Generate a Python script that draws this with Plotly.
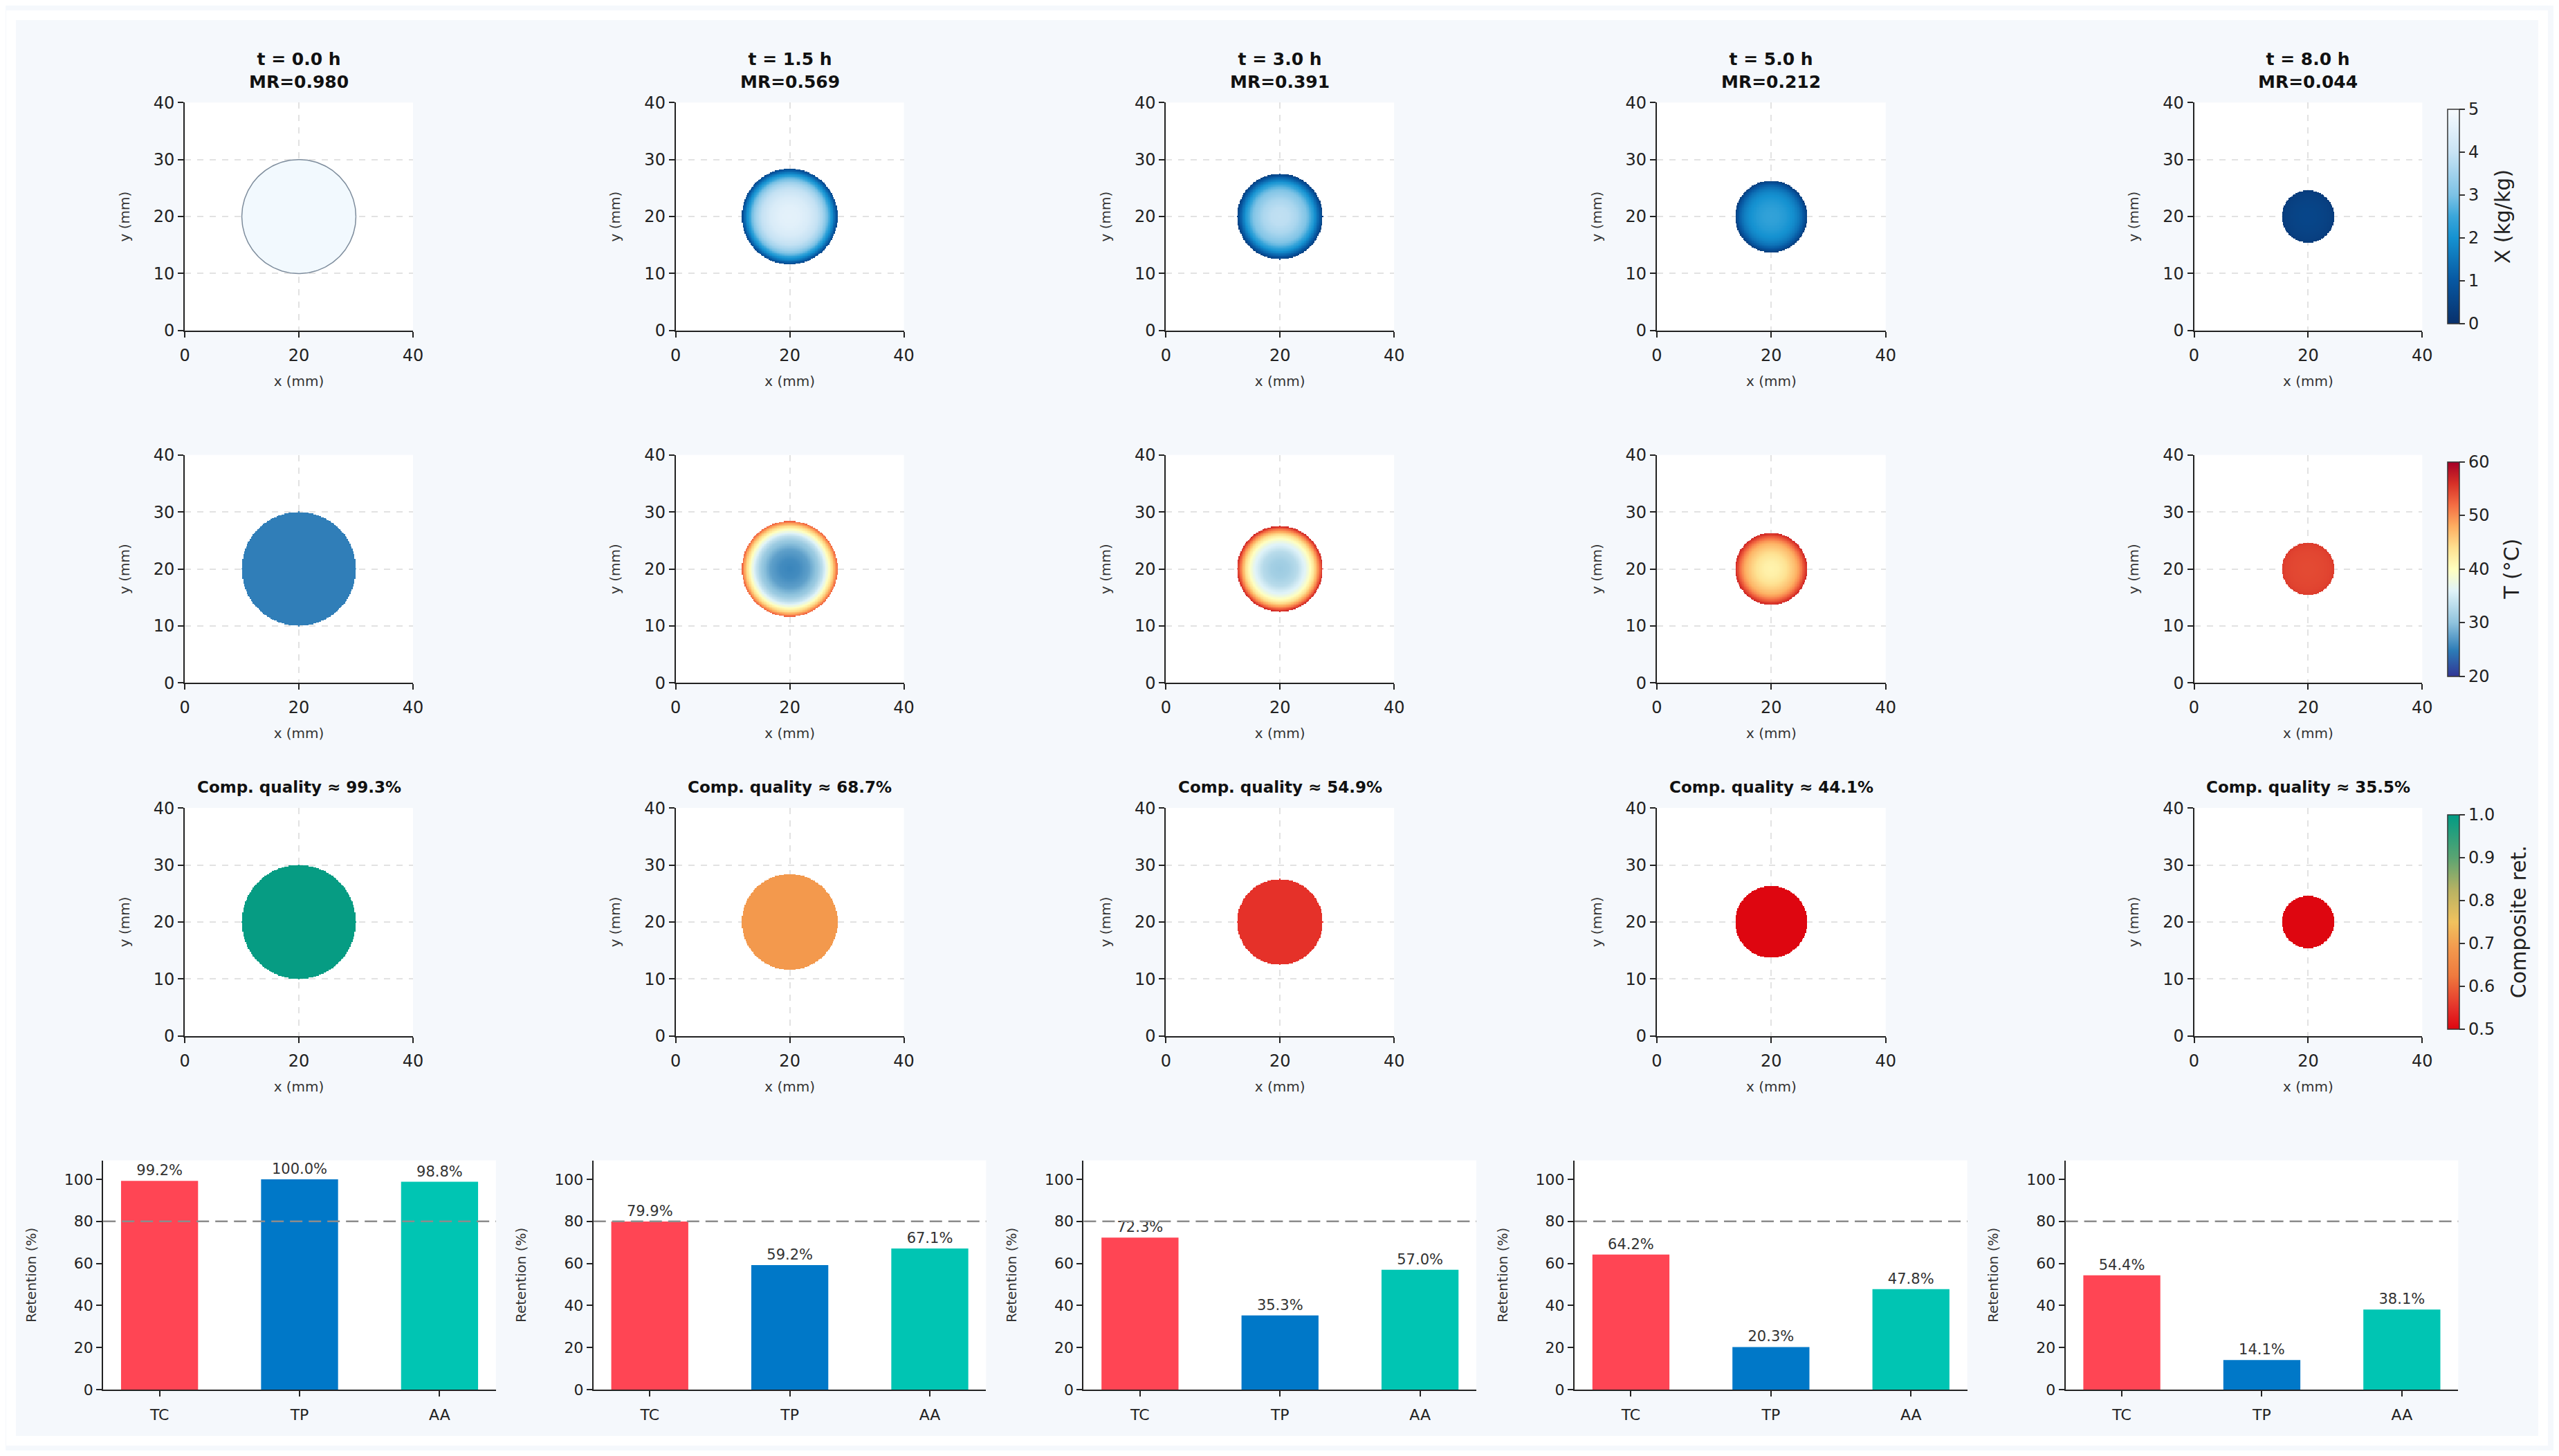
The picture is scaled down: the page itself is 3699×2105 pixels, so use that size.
import numpy as np
import plotly.graph_objects as go
from plotly.subplots import make_subplots

# reference canvas, and the figure itself (page body keeps an 8 px margin)
W, H = 3699, 2105
OFF = 8
FW, FH = W - 2 * OFF, H - 2 * OFF
# the photographed page comes back slightly shrunk about its centre; undo that
AX, SX = 7.8, 0.9943
AY, SY = 12.7, 0.9877

# --- data ---
times_h = [0.0, 1.5, 3.0, 5.0, 8.0]
moisture_ratio = [0.980, 0.569, 0.391, 0.212, 0.044]
composite_quality = [99.3, 68.7, 54.9, 44.1, 35.5]
radius_mm = [10.0, 8.4, 7.5, 6.3, 4.6]

# radial profiles, sampled at r/R
profile_r = [0.0, 0.2, 0.4, 0.6, 0.7, 0.8, 0.9, 1.0]
moisture_profiles = [
    [4.9, 4.9, 4.9, 4.9, 4.9, 4.9, 4.9, 4.9],
    [4.6, 4.55, 4.35, 3.9, 3.5, 2.8, 1.8, 0.6],
    [3.9, 3.85, 3.6, 3.1, 2.7, 2.1, 1.3, 0.4],
    [2.4, 2.35, 2.2, 1.95, 1.75, 1.45, 1.0, 0.35],
    [0.55, 0.55, 0.52, 0.48, 0.45, 0.42, 0.38, 0.3],
]
temp_profiles = [
    [25.0, 25.0, 25.0, 25.0, 25.0, 25.0, 25.0, 25.0],
    [25.5, 26.0, 27.5, 31.0, 34.0, 38.5, 45.0, 53.0],
    [31.0, 31.5, 33.0, 36.5, 39.5, 44.0, 50.0, 57.0],
    [41.5, 42.0, 43.5, 46.0, 47.5, 50.0, 53.5, 57.0],
    [54.3, 54.3, 54.4, 54.5, 54.6, 54.7, 54.9, 55.3],
]

nutrients = ["TC", "TP", "AA"]
tc_retention = [99.2, 79.9, 72.3, 64.2, 54.4]
tp_retention = [100.0, 59.2, 35.3, 20.3, 14.1]
aa_retention = [98.8, 67.1, 57.0, 47.8, 38.1]
bar_colors = ["#ff4554", "#0078c8", "#00c5b3"]

# --- colour scales ---
x_scale = [[0.0, "#08306b"], [0.2, "#0757a1"], [0.4, "#1592d1"], [0.5, "#3aa6da"],
           [0.6, "#7cc2e5"], [0.8, "#c8e3f4"], [1.0, "#f7fbff"]]
t_scale = [[0.0, "#313695"], [0.12, "#2c7bb6"], [0.25, "#8fc3dd"], [0.4, "#e0f3f8"],
           [0.5, "#ffffbf"], [0.6, "#fee090"], [0.7, "#fdae61"], [0.8, "#f46d43"],
           [0.9, "#d73027"], [1.0, "#a50026"]]
q_scale = [[0.0, "#de0610"], [0.1, "#e5322a"], [0.25, "#ef7a3e"], [0.38, "#f39a4e"],
           [0.5, "#f1c25e"], [0.65, "#b7b263"], [0.8, "#5aa472"], [1.0, "#009b84"]]

# --- layout geometry (reference pixels) ---
heat_x = [(267, 597), (977, 1307), (1686, 2016), (2396, 2727), (3173, 3503)]
heat_y = [(147, 477), (657, 987), (1168, 1498)]
bar_x = [(149, 717), (858, 1426), (1567, 2135), (2277, 2845), (2987, 3555)]
bar_y = (1678, 2010)

def fig_x(p):
    return (p - AX) / SX - OFF

def fig_y(p):
    return (p - AY) / SY - OFF

def px(p):
    return fig_x(p) / FW

def py(p):
    return 1 - fig_y(p) / FH

def dom_x(a, b):
    return [px(a), px(b)]

def dom_y(top, bottom):
    return [py(bottom), py(top)]

FONT = "DejaVu Sans"
TXT = "#222222"

grid = np.linspace(0, 40, 241)
GX, GY = np.meshgrid(grid, grid)
RR = np.sqrt((GX - 20) ** 2 + (GY - 20) ** 2)

def field(profile, R):
    z = np.interp(RR / R, profile_r, profile)
    z[RR > R] = np.nan
    return np.round(z, 3)

fig = make_subplots(rows=4, cols=5, horizontal_spacing=0.02, vertical_spacing=0.02)

cb_len = (fig_y(477) - fig_y(147)) / FH
cbar_common = dict(thickness=17, outlinewidth=1.5, outlinecolor="#333333", ticks="outside",
                   ticklen=8, tickwidth=2, tickcolor="#333333", xanchor="left",
                   x=px(3530), lenmode="fraction", len=cb_len, yanchor="middle",
                   tickfont=dict(size=24, color=TXT, family=FONT))

for c in range(5):
    R = radius_mm[c]
    # moisture
    fig.add_trace(go.Heatmap(
        x=grid, y=grid, z=field(moisture_profiles[c], R), zmin=0, zmax=5,
        colorscale=x_scale, showscale=(c == 4), hoverinfo="skip",
        colorbar=dict(cbar_common, y=py(sum(heat_y[0]) / 2), tickvals=[0, 1, 2, 3, 4, 5]),
    ), row=1, col=c + 1)
    # temperature
    fig.add_trace(go.Heatmap(
        x=grid, y=grid, z=field(temp_profiles[c], R), zmin=20, zmax=60,
        colorscale=t_scale, showscale=(c == 4), hoverinfo="skip",
        colorbar=dict(cbar_common, y=py(sum(heat_y[1]) / 2), tickvals=[20, 30, 40, 50, 60]),
    ), row=2, col=c + 1)
    # composite quality
    q = composite_quality[c] / 100
    fig.add_trace(go.Heatmap(
        x=grid, y=grid, z=field([q] * len(profile_r), R), zmin=0.5, zmax=1.0,
        colorscale=q_scale, showscale=(c == 4), hoverinfo="skip",
        colorbar=dict(cbar_common, y=py(sum(heat_y[2]) / 2),
                      tickvals=[0.5, 0.6, 0.7, 0.8, 0.9, 1.0], tickformat=".1f"),
    ), row=3, col=c + 1)

    # retention bars
    vals = [tc_retention[c], tp_retention[c], aa_retention[c]]
    fig.add_trace(go.Bar(
        x=nutrients, y=vals, width=0.55, marker=dict(color=bar_colors, line=dict(width=0)),
        text=[f"{v:.1f}%" for v in vals], textposition="outside", cliponaxis=False,
        textfont=dict(size=21, color="#333333", family=FONT), hoverinfo="skip",
    ), row=4, col=c + 1)
    fig.add_hline(y=80, line=dict(color="#8c8c8c", width=2.5, dash="18px,9px"), row=4, col=c + 1)

# outline of the fresh sample
theta = np.linspace(0, 2 * np.pi, 240)
fig.add_trace(go.Scatter(
    x=20 + radius_mm[0] * np.cos(theta), y=20 + radius_mm[0] * np.sin(theta),
    mode="lines", line=dict(color="#7d8c9c", width=1.5), hoverinfo="skip",
), row=1, col=1)

axis_common = dict(showline=True, linecolor="#222222", linewidth=2, mirror=False,
                   ticks="outside", ticklen=8, tickwidth=2, tickcolor="#222222",
                   zeroline=False, tickfont=dict(size=24, color=TXT, family=FONT))

for r in range(3):
    for c in range(5):
        fig.update_xaxes(axis_common, domain=dom_x(*heat_x[c]), range=[0, 40], tickvals=[0, 20, 40],
                         showgrid=True, gridcolor="#e2e2e2", gridwidth=1.5, griddash="dash",
                         ticklabelstandoff=5,
                         title=dict(text="x (mm)", font=dict(size=20, color="#333333", family=FONT), standoff=17),
                         row=r + 1, col=c + 1)
        fig.update_yaxes(axis_common, domain=dom_y(*heat_y[r]), range=[0, 40], tickvals=[0, 10, 20, 30, 40],
                         showgrid=True, gridcolor="#e2e2e2", gridwidth=1.5, griddash="dash",
                         title=dict(text="y (mm)", font=dict(size=20, color="#333333", family=FONT), standoff=29),
                         row=r + 1, col=c + 1)

for c in range(5):
    fig.update_xaxes(axis_common, domain=dom_x(*bar_x[c]), range=[-0.4025, 2.4025], showgrid=False,
                     ticklabelstandoff=7,
                     tickfont=dict(size=22, color=TXT, family=FONT), row=4, col=c + 1)
    fig.update_yaxes(axis_common, domain=dom_y(*bar_y), range=[0, 109], tickvals=[0, 20, 40, 60, 80, 100],
                     showgrid=False, tickfont=dict(size=22, color=TXT, family=FONT),
                     title=dict(text="Retention (%)", font=dict(size=20, color="#333333", family=FONT), standoff=35),
                     row=4, col=c + 1)

# panel titles
for c in range(5):
    cx = px(sum(heat_x[c]) / 2)
    fig.add_annotation(
        x=cx, y=py(134), xref="paper", yref="paper", xanchor="center", yanchor="bottom",
        text=f"<b>t = {times_h[c]:.1f} h</b><br><b>MR={moisture_ratio[c]:.3f}</b>",
        showarrow=False, font=dict(size=25, color="#111111", family=FONT))
    fig.add_annotation(
        x=cx, y=py(1153), xref="paper", yref="paper", xanchor="center", yanchor="bottom",
        text=f"<b>Comp. quality ≈ {composite_quality[c]:.1f}%</b>",
        showarrow=False, font=dict(size=23, color="#111111", family=FONT))

# colour bar labels
cbar_titles = ["X (kg/kg)", "T (°C)", "Composite ret."]
cbar_title_x = [3619, 3632, 3643]
for r in range(3):
    fig.add_annotation(
        x=px(cbar_title_x[r]), y=py(sum(heat_y[r]) / 2), xref="paper", yref="paper",
        xanchor="center", yanchor="middle", textangle=-90, text=cbar_titles[r],
        showarrow=False, font=dict(size=30, color=TXT, family=FONT))

# thin white frame around the light panel
fig.add_shape(type="rect", xref="paper", yref="paper", x0=0, x1=1, y0=0, y1=1,
              line=dict(color="white", width=14), fillcolor="rgba(0,0,0,0)", layer="above")

fig.update_layout(
    width=FW, height=FH, margin=dict(l=0, r=0, t=0, b=0),
    paper_bgcolor="#f5f8fc", plot_bgcolor="white", showlegend=False,
    font=dict(family=FONT, color=TXT),
)

fig.write_html("out.html")
